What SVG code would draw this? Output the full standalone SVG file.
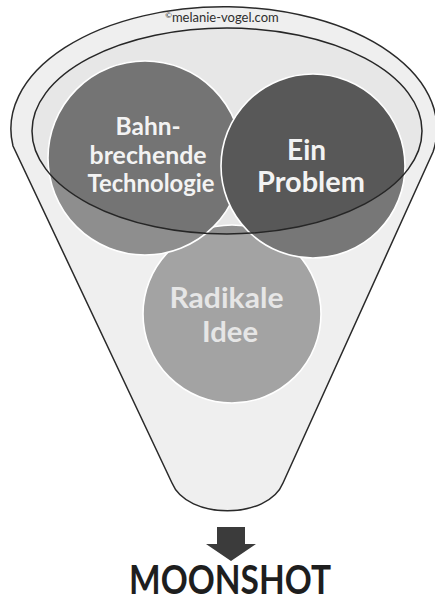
<svg xmlns="http://www.w3.org/2000/svg" width="435" height="603" viewBox="0 0 435 603">
  <style>
    .body { fill: #efefef; stroke: #2a2a2a; stroke-width: 1.5; }
    .rim { fill: none; stroke: #262626; stroke-width: 1.5; }
    .ring { fill: none; stroke: #ffffff; stroke-width: 1.6; }
    .lbl { font-family: Lato, "Open Sans", "Liberation Sans", sans-serif; font-weight: bold; text-anchor: middle; }
    .mark { font-family: Lato, "Open Sans", "Liberation Sans", sans-serif; font-size: 13px; fill: #2e2e2e; text-anchor: middle; }
  </style>
  <defs>
    <!-- mouth of the funnel: circles look darker inside it -->
    <clipPath id="mouth">
      <ellipse cx="227" cy="131" rx="195" ry="103"/>
    </clipPath>
  </defs>

  <rect width="435" height="603" fill="#ffffff"/>

  <!-- funnel body and mouth -->
  <g id="funnel">
    <path class="body" d="M 13,146 A 213 122 0 1 1 433,152 L 283,483 C 268,520 187,520 172,483 Z"/>
    <ellipse cx="227" cy="131" rx="195" ry="103" fill="#e7e7e7"/>
    <text class="mark" x="222" y="22"><tspan font-size="8" dy="-4">©</tspan><tspan dy="4">melanie-vogel.com</tspan></text>
  </g>

  <!-- idea circle (bottom of the stack) -->
  <g id="node-radikale">
    <circle cx="232" cy="314" r="89" fill="#a3a3a3"/>
    <circle cx="232" cy="314" r="89" fill="#8f8f8f" clip-path="url(#mouth)"/>
    <circle class="ring" cx="232" cy="314" r="89"/>
    <text class="lbl" font-size="29" fill="#e6e6e6">
      <tspan x="230" y="308" textLength="114" lengthAdjust="spacingAndGlyphs">Radikale</tspan>
      <tspan x="230" y="342" textLength="56" lengthAdjust="spacingAndGlyphs">Idee</tspan>
    </text>
  </g>

  <!-- technology circle -->
  <g id="node-technologie">
    <circle cx="145" cy="158" r="97" fill="#8e8e8e"/>
    <circle cx="145" cy="158" r="97" fill="#747474" clip-path="url(#mouth)"/>
    <circle class="ring" cx="145" cy="158" r="97"/>
    <text class="lbl" font-size="24" fill="#f3f3f3">
      <tspan x="151" y="135" textLength="65" lengthAdjust="spacingAndGlyphs">Bahn-</tspan>
      <tspan x="151" y="163.5" textLength="117" lengthAdjust="spacingAndGlyphs">brechende</tspan>
      <tspan x="151" y="192" textLength="127" lengthAdjust="spacingAndGlyphs">Technologie</tspan>
    </text>
  </g>

  <!-- problem circle (top of the stack) -->
  <g id="node-problem">
    <circle cx="313" cy="166" r="92" fill="#777777"/>
    <circle cx="313" cy="166" r="92" fill="#585858" clip-path="url(#mouth)"/>
    <circle class="ring" cx="313" cy="166" r="92"/>
    <text class="lbl" font-size="28" fill="#f3f3f3">
      <tspan x="310" y="160">Ein</tspan>
      <tspan x="311" y="192" textLength="108" lengthAdjust="spacingAndGlyphs">Problem</tspan>
    </text>
  </g>

  <!-- rim line drawn over the circles -->
  <g id="funnel-rim">
    <ellipse class="rim" cx="227" cy="131" rx="195" ry="103"/>
  </g>

  <!-- block arrow out of the funnel -->
  <g id="connectors">
    <path d="M 217,527 H 245 V 544 H 256 L 231,561 L 206,544 H 217 Z" fill="#3b3b3b"/>
  </g>

  <g id="node-moonshot">
    <text class="lbl" x="230" y="594" font-size="40" fill="#1e1e1e" textLength="202" lengthAdjust="spacingAndGlyphs">MOONSHOT</text>
  </g>
</svg>
